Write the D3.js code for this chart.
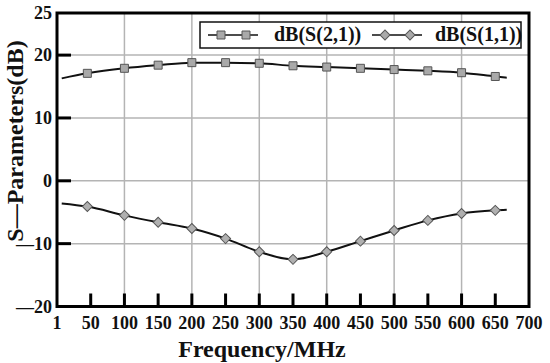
<!DOCTYPE html>
<html>
<head>
<meta charset="utf-8">
<script src="https://cdn.jsdelivr.net/npm/d3@7/dist/d3.min.js"></script>
<style>
  body { margin: 0; background: #fff; }
</style>
</head>
<body>
<div id="chart"></div>
<script>
// data
const freq = [7, 45, 100, 150, 200, 250, 300, 350, 400, 450, 500, 550, 600, 650, 667];
const s21 = [16.3, 17.1, 17.9, 18.4, 18.8, 18.8, 18.7, 18.3, 18.1, 17.9, 17.7, 17.5, 17.2, 16.6, 16.4];
const s11 = [-3.6, -4.1, -5.5, -6.6, -7.6, -9.2, -11.3, -12.5, -11.3, -9.6, -7.9, -6.3, -5.2, -4.7, -4.6];
const seriesNames = ['dB(S(2,1))', 'dB(S(1,1))'];
const xTickValues = [0, 50, 100, 150, 200, 250, 300, 350, 400, 450, 500, 550, 600, 650, 700];
const xTickLabels = ['1', '50', '100', '150', '200', '250', '300', '350', '400', '450', '500', '550', '600', '650', '700'];
const yTickValues = [-20, -10, 0, 10, 20, 26.7];
const yTickLabels = ['\u201420', '\u201410', '0', '10', '20', '25'];
const xGrid = [100, 200, 300, 400, 500, 600];
const yGrid = [-10, 0, 10, 20];

const width = 550, height = 363;
const margin = { top: 13, right: 21, bottom: 56.5, left: 57 };
const FONT = 'Liberation Serif';

const svg = d3.select('#chart').append('svg')
  .attr('width', width).attr('height', height);

const x = d3.scaleLinear().domain([0, 700]).range([margin.left, width - margin.right]);
const y = d3.scaleLinear().domain([-20, 26.7]).range([height - margin.bottom, margin.top]);

function label(sel) {
  return sel.attr('font-family', FONT).attr('font-weight', 'bold').attr('fill', '#111');
}

/* ----------grid------------*/
svg.append('g').selectAll('line').data(xGrid).enter().append('line')
  .attr('x1', d => x(d)).attr('x2', d => x(d))
  .attr('y1', y.range()[1]).attr('y2', y.range()[0])
  .attr('stroke', '#b4b4b4').attr('stroke-width', 1.5);
svg.append('g').selectAll('line').data(yGrid).enter().append('line')
  .attr('y1', d => y(d)).attr('y2', d => y(d))
  .attr('x1', x.range()[0]).attr('x2', x.range()[1])
  .attr('stroke', '#b4b4b4').attr('stroke-width', 1.5);

/* ----------ticks (inward)------------*/
svg.append('g').selectAll('line').data(xTickValues.slice(1, -1)).enter().append('line')
  .attr('x1', d => x(d)).attr('x2', d => x(d))
  .attr('y1', y(-20)).attr('y2', y(-20) - 13)
  .attr('stroke', '#000').attr('stroke-width', 3);
svg.append('g').selectAll('line').data(yGrid).enter().append('line')
  .attr('y1', d => y(d)).attr('y2', d => y(d))
  .attr('x1', x(0)).attr('x2', x(0) + 14)
  .attr('stroke', '#000').attr('stroke-width', 3);

/* ----------tick labels------------*/
svg.append('g').selectAll('text').data(xTickValues).enter().append('text')
  .call(label)
  .attr('x', d => x(d)).attr('y', y(-20) + 22)
  .attr('text-anchor', 'middle').attr('font-size', 18)
  .text((d, i) => xTickLabels[i]);
svg.append('g').selectAll('text').data(yTickValues).enter().append('text')
  .call(label)
  .attr('x', x(0) - 5).attr('y', d => y(d) + 6)
  .attr('text-anchor', 'end').attr('font-size', 18)
  .text((d, i) => yTickLabels[i]);

/* ----------axis titles------------*/
svg.append('text').call(label)
  .attr('x', 262).attr('y', 357)
  .attr('text-anchor', 'middle').attr('font-size', 24)
  .text('Frequency/MHz');
svg.append('text').call(label)
  .attr('transform', 'translate(23,141) rotate(-90)')
  .attr('text-anchor', 'middle').attr('font-size', 24)
  .text('S\u2014Parameters(dB)');

/* ----------curves------------*/
const line = d3.line().curve(d3.curveMonotoneX);
const series = [s21, s11];
series.forEach(vals => {
  svg.append('path')
    .attr('d', line(freq.map((f, i) => [x(f), y(vals[i])])))
    .attr('fill', 'none').attr('stroke', '#111').attr('stroke-width', 2);
});

const square = d3.symbol().type(d3.symbolSquare).size(64);
const diamond = d3.symbol().type(d3.symbolSquare).size(50);
const markIdx = d3.range(1, freq.length - 1);

svg.append('g').selectAll('path').data(markIdx).enter().append('path')
  .attr('d', square())
  .attr('transform', i => 'translate(' + x(freq[i]) + ',' + y(s21[i]) + ')')
  .attr('fill', '#a9a9a9').attr('stroke', '#555').attr('stroke-width', 1);
svg.append('g').selectAll('path').data(markIdx).enter().append('path')
  .attr('d', diamond())
  .attr('transform', i => 'translate(' + x(freq[i]) + ',' + y(s11[i]) + ') rotate(45)')
  .attr('fill', '#b0b0b0').attr('stroke', '#555').attr('stroke-width', 1);

/* ----------frame------------*/
svg.append('rect')
  .attr('x', x.range()[0]).attr('y', y.range()[1])
  .attr('width', x.range()[1] - x.range()[0]).attr('height', y.range()[0] - y.range()[1])
  .attr('fill', 'none').attr('stroke', '#000').attr('stroke-width', 3);

/* ----------legend------------*/
const lg = svg.append('g').attr('transform', 'translate(200,22)');
lg.append('rect').attr('width', 321).attr('height', 26)
  .attr('fill', '#fff').attr('stroke', '#111').attr('stroke-width', 1.5);
const legendItems = [
  { x0: 8, tx: 74, shape: square, rot: 0 },
  { x0: 172, tx: 235, shape: diamond, rot: 45 }
];
legendItems.forEach((it, k) => {
  lg.append('line').attr('x1', it.x0).attr('x2', it.x0 + 50)
    .attr('y1', 13).attr('y2', 13).attr('stroke', '#111').attr('stroke-width', 1.5);
  [it.x0 + 13, it.x0 + 38].forEach(mx => {
    lg.append('path').attr('d', it.shape())
      .attr('transform', 'translate(' + mx + ',13) rotate(' + it.rot + ')')
      .attr('fill', '#a9a9a9').attr('stroke', '#555').attr('stroke-width', 1);
  });
  lg.append('text').call(label).attr('x', it.tx).attr('y', 19).attr('font-size', 20)
    .text(seriesNames[k]);
});
</script>
</body>
</html>
